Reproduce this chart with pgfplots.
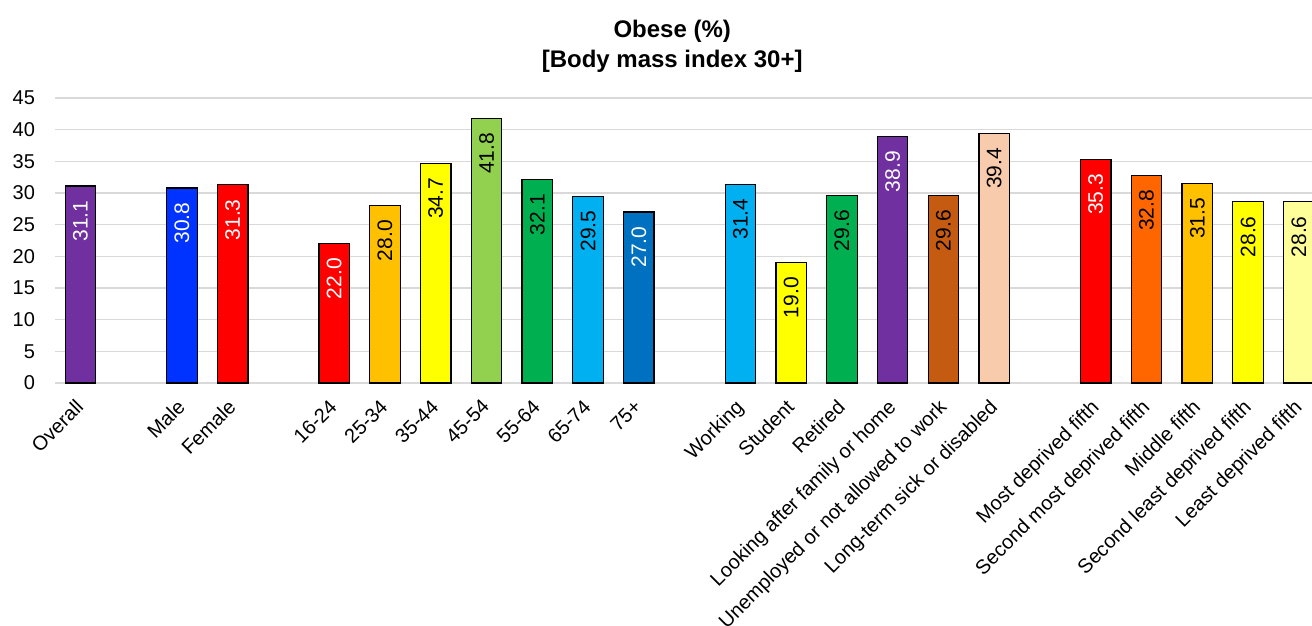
\documentclass[border=0pt]{standalone}
\usepackage{fontspec}
\setmainfont{Liberation Sans}
\usepackage{pgfplots}
\pgfplotsset{compat=1.18}
\definecolor{cPurple}{HTML}{7030A0}
\definecolor{cBlue}{HTML}{0033FF}
\definecolor{cRed}{HTML}{FF0000}
\definecolor{cGold}{HTML}{FFC000}
\definecolor{cYellow}{HTML}{FFFF00}
\definecolor{cLGreen}{HTML}{92D050}
\definecolor{cGreen}{HTML}{00B050}
\definecolor{cSky}{HTML}{00B0F0}
\definecolor{cDBlue}{HTML}{0070C0}
\definecolor{cBrown}{HTML}{C55A11}
\definecolor{cPeach}{HTML}{F8CBAD}
\definecolor{cOrange}{HTML}{FF6600}
\definecolor{cPale}{HTML}{FFFF99}
\definecolor{cGrid}{HTML}{D9D9D9}
\newcommand{\mybar}[4]{\addplot[fill=#2, draw=black, line width=0.6pt, bar shift=0pt, every node near coord/.append style={text=#4}] coordinates {(#1,#3)};}
\begin{document}
\begin{tikzpicture}
\begin{axis}[
  scale only axis,
  width=628.5pt, height=142.5pt,
  ybar, bar width=0.6,
  xmin=-0.5, xmax=24.26,
  ymin=0, ymax=45,
  ytick={0,5,...,45},
  xtick={0,2,3,5,6,7,8,9,10,11,13,14,15,16,17,18,20,21,22,23,24},
  xticklabels={Overall,Male,Female,16-24,25-34,35-44,45-54,55-64,65-74,75+,Working,Student,Retired,Looking after family or home,Unemployed or not allowed to work,Long-term sick or disabled,Most deprived fifth,Second most deprived fifth,Middle fifth,Second least deprived fifth,Least deprived fifth},
  major tick length=0pt,
  axis line style={draw=none},
  ymajorgrids, grid style={cGrid, line width=0.8pt},
  /pgf/number format/assume math mode=true,
  yticklabel style={font=\fontsize{10}{12}\selectfont, xshift=-6.5pt},
  xticklabel style={font=\fontsize{10}{12}\selectfont, xshift=-3pt, yshift=-6pt, rotate=45, anchor=north east, inner sep=1pt},
  nodes near coords={\pgfmathprintnumber[fixed,zerofill,precision=1]{\pgfplotspointmeta}},
  every node near coord/.style={rotate=90, anchor=east, inner xsep=7pt, font=\fontsize{10.5}{12}\selectfont},
  title={Obese (\%)\\{[Body mass index 30+]}},
  every axis title/.style={at={(0.491,1)}, anchor=south, yshift=9pt, align=center, font=\fontsize{12}{15}\selectfont\bfseries},
]
\mybar{0}{cPurple}{31.1}{white}
\mybar{2}{cBlue}{30.8}{white}
\mybar{3}{cRed}{31.3}{white}
\mybar{5}{cRed}{22.0}{white}
\mybar{6}{cGold}{28.0}{black}
\mybar{7}{cYellow}{34.7}{black}
\mybar{8}{cLGreen}{41.8}{black}
\mybar{9}{cGreen}{32.1}{black}
\mybar{10}{cSky}{29.5}{black}
\mybar{11}{cDBlue}{27.0}{white}
\mybar{13}{cSky}{31.4}{black}
\mybar{14}{cYellow}{19.0}{black}
\mybar{15}{cGreen}{29.6}{black}
\mybar{16}{cPurple}{38.9}{white}
\mybar{17}{cBrown}{29.6}{black}
\mybar{18}{cPeach}{39.4}{black}
\mybar{20}{cRed}{35.3}{white}
\mybar{21}{cOrange}{32.8}{black}
\mybar{22}{cGold}{31.5}{black}
\mybar{23}{cYellow}{28.6}{black}
\mybar{24}{cPale}{28.6}{black}
\end{axis}
\pgfresetboundingbox
\useasboundingbox ([shift={(-27.5pt,-121.5pt)}]current axis.south west) rectangle ([shift={(0pt,49pt)}]current axis.north east);
\end{tikzpicture}
\end{document}
